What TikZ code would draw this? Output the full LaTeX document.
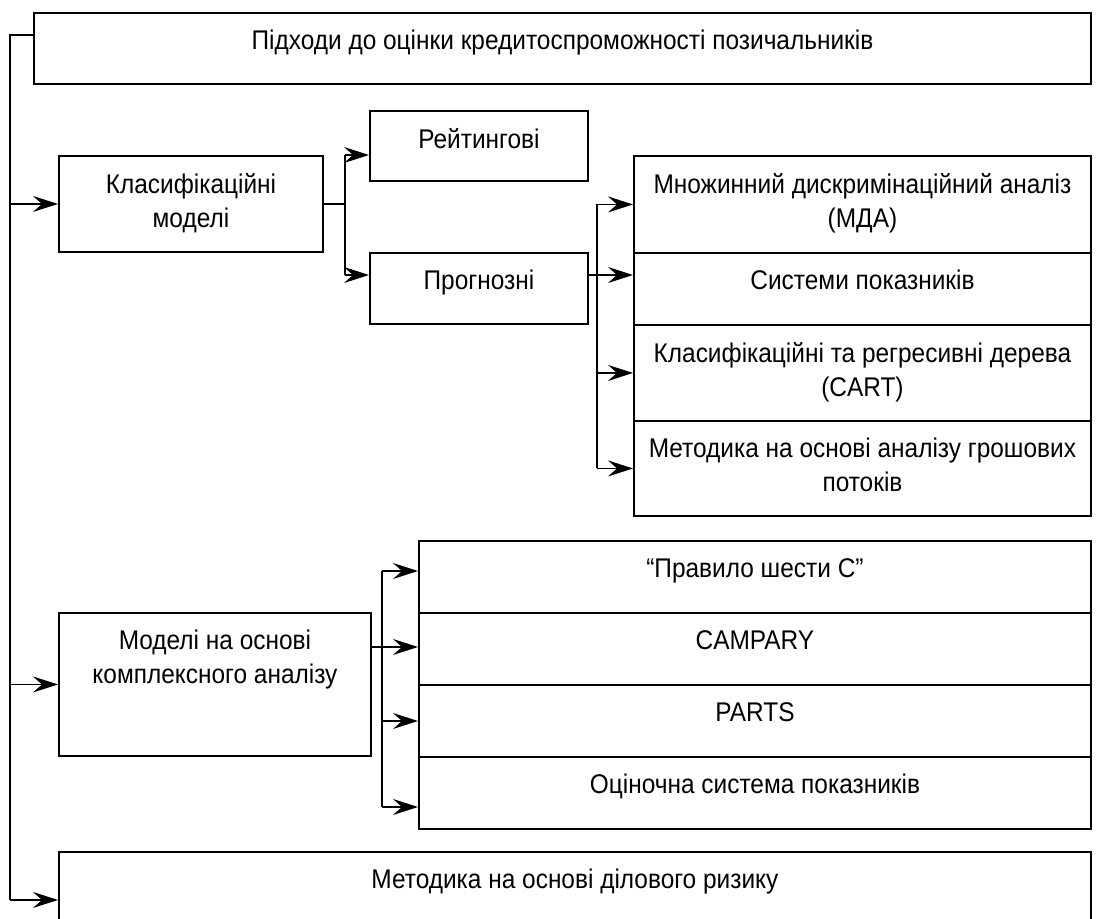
\documentclass[tikz,border=0pt]{standalone}
\usepackage{fontspec}
\setmainfont{Liberation Sans}[FakeStretch=0.905]
\usetikzlibrary{arrows.meta,positioning}
\tikzset{
  frame/.style={draw,line width=1.9pt,inner sep=0pt,anchor=north west},
  caption/.style={anchor=north,align=center,inner sep=0pt,yshift=-18pt,font=\fontsize{27}{34}\selectfont},
  link/.style={line width=1.3pt},
  feed/.style={-{Stealth[length=25pt,width=16pt,inset=9pt]},line width=1.3pt}
}

\begin{document}
\begin{tikzpicture}[x=1pt,y=-1pt]
\useasboundingbox (0,0) rectangle (1104,919);
% boxes
\node[frame,minimum width=1057pt,minimum height=71pt,label={[caption]north:Підходи до оцінки кредитоспроможності позичальників}] (top) at (33,12) {};
\node[frame,minimum width=264pt,minimum height=96pt,label={[caption]north:Класифікаційні\\моделі}] (klas) at (58,155) {};
\node[frame,minimum width=218pt,minimum height=70pt,label={[caption]north:Рейтингові}] (rate) at (369,110) {};
\node[frame,minimum width=218pt,minimum height=71pt,label={[caption]north:Прогнозні}] (prog) at (369,252) {};
\node[frame,minimum width=457pt,minimum height=97pt,label={[caption]north:Множинний дискримінаційний аналіз\\(МДА)}] (mda) at (633,155) {};
\node[frame,minimum width=457pt,minimum height=72pt,label={[caption]north:Системи показників}] (sys) at (633,252) {};
\node[frame,minimum width=457pt,minimum height=96pt,label={[caption]north:Класифікаційні та регресивні дерева\\(CART)}] (cart) at (633,324) {};
\node[frame,minimum width=457pt,minimum height=95pt,label={[caption]north:Методика на основі аналізу грошових\\потоків}] (cash) at (633,420) {};
\node[frame,minimum width=312pt,minimum height=143pt,label={[caption]north:Моделі на основі\\комплексного аналізу}] (model) at (58,612) {};
\foreach \nm/\yy/\txt in {six/540/{“Правило шести С”},camp/612/CAMPARY,parts/684/PARTS,score/756/{Оціночна система показників}}
  \node[frame,minimum width=672pt,minimum height=72pt,label={[caption]north:\txt}] (\nm) at (418,\yy) {};
\node[frame,minimum width=1032pt,minimum height=96pt,label={[caption]north:Методика на основі ділового ризику}] (risk) at (58,851) {};

% connectors
\coordinate (spine) at (10,0);
\coordinate (forkA) at (345,0);
\coordinate (forkB) at (597,0);
\coordinate (forkC) at (382,0);
\draw[link] ([yshift=-23pt]top.north west) -| (spine |- risk.west);
\foreach \nm in {klas,model,risk}
  \draw[feed] (spine |- \nm.west) -- (\nm.west);

\coordinate (rateIn) at ([yshift=-45pt]rate.north west);
\coordinate (progIn) at ([yshift=-23pt]prog.north west);
\draw[link] (klas.east) -- (klas.east -| forkA);
\draw[link] (forkA |- rateIn) -- (forkA |- progIn);
\foreach \pt in {rateIn,progIn}
  \draw[feed] (forkA |- \pt) -- (\pt);

\coordinate (sysIn) at ([yshift=-23pt]sys.north west);
\draw[link] (forkB |- mda.west) -- (forkB |- cash.west);
\draw[feed] (prog.east |- sysIn) -- (sysIn);
\foreach \nm in {mda,cart,cash}
  \draw[feed] (forkB |- \nm.west) -- (\nm.west);

\coordinate (modelOut) at ([yshift=-35pt]model.north east);
\draw[link] (modelOut) -- (modelOut -| forkC);
\draw[link] ([yshift=-31pt]six.north west -| forkC) -- ([yshift=-51pt]score.north west -| forkC);
\foreach \nm/\dy in {six/31,camp/35,parts/37,score/51}
  \draw[feed] ([yshift=-\dy pt]\nm.north west -| forkC) -- ([yshift=-\dy pt]\nm.north west);
\end{tikzpicture}
\end{document}
